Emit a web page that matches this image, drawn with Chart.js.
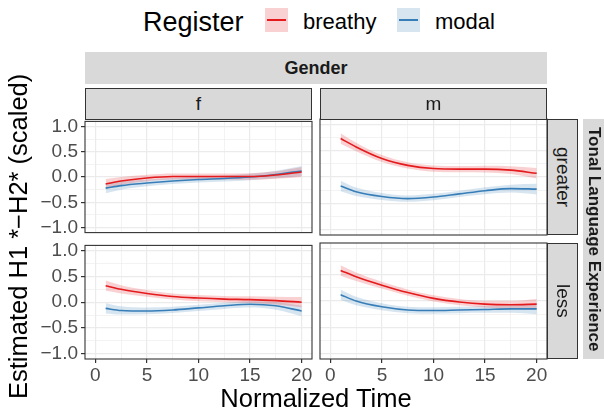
<!DOCTYPE html>
<html>
<head>
<meta charset="utf-8">
<script src="https://cdn.jsdelivr.net/npm/chart.js@4.4.1/dist/chart.umd.min.js"></script>
<style>
body { margin: 0; background: #fff; }
#wrap { position: relative; width: 604px; height: 414px; overflow: hidden; font-family: "Liberation Sans", Arial, sans-serif; color: #000; }
#wrap canvas { position: absolute; }
.txt { position: absolute; line-height: 1; white-space: nowrap; }
.strip { position: absolute; background: #d9d9d9; box-sizing: border-box; display: flex; align-items: center; justify-content: center; color: #1a1a1a; font-size: 19px; overflow: hidden; }
.boxed { border: 1.1px solid #333; }
.vert { writing-mode: vertical-rl; }
.key { position: absolute; width: 23px; height: 24px; }
.key span { position: absolute; left: 2px; right: 2px; top: 11px; height: 2px; }
</style>
</head>
<body>
<div id="wrap">
  <canvas id="c_f_greater" width="306" height="140" style="left:18px;top:107px"></canvas>
  <canvas id="c_m_greater" width="251" height="140" style="left:308px;top:107px"></canvas>
  <canvas id="c_f_less" width="306" height="168" style="left:18px;top:231px"></canvas>
  <canvas id="c_m_less" width="251" height="168" style="left:308px;top:231px"></canvas>

  <div class="txt" style="left:143px;top:9px;font-size:27px">Register</div>
  <div class="key" style="left:265px;top:8px;background:rgba(228,26,28,0.2)"><span style="background:#e41a1c"></span></div>
  <div class="txt" style="left:303px;top:11px;font-size:22px">breathy</div>
  <div class="key" style="left:397px;top:8px;background:rgba(55,126,184,0.2)"><span style="background:#377eb8"></span></div>
  <div class="txt" style="left:435px;top:11px;font-size:22px">modal</div>

  <div class="strip" style="left:85px;top:52px;width:462px;height:32px;font-weight:bold;font-size:18px">Gender</div>
  <div class="strip boxed" style="left:85px;top:88px;width:227px;height:32px">f</div>
  <div class="strip boxed" style="left:320px;top:88px;width:227px;height:32px">m</div>
  <div class="strip boxed vert" style="left:547px;top:119px;width:31px;height:116px">greater</div>
  <div class="strip boxed vert" style="left:547px;top:243px;width:31px;height:116px">less</div>
  <div class="strip vert" style="left:583px;top:119px;width:22px;height:240px;font-weight:bold;font-size:17px">Tonal Language Experience</div>

  <div class="txt" style="left:-141px;top:226px;width:320px;height:26px;text-align:center;font-size:25.5px;transform:rotate(-90deg)">Estimated H1 *&minus;H2* (scaled)</div>
  <div class="txt" style="left:116px;top:386px;width:400px;text-align:center;font-size:25.5px">Normalized Time</div>
</div>

<script>
// time points along the smooth (normalized time)
const timePoints = [1, 2.5, 5, 7.5, 10, 12.5, 15, 17.5, 20];

// fitted curves, one per gender x tonal experience x register
const fGreaterBreathy = [-0.14, -0.08, -0.02, 0.01, 0.01, 0.01, 0.01, 0.04, 0.10];
const fGreaterModal   = [-0.22, -0.17, -0.12, -0.08, -0.05, -0.03, 0.00, 0.05, 0.12];
const mGreaterBreathy = [0.73, 0.57, 0.35, 0.22, 0.16, 0.15, 0.15, 0.13, 0.07];
const mGreaterModal   = [-0.17, -0.28, -0.37, -0.41, -0.38, -0.32, -0.26, -0.22, -0.23];
const fLessBreathy    = [0.32, 0.25, 0.17, 0.11, 0.08, 0.06, 0.05, 0.03, 0.00];
const fLessModal      = [-0.12, -0.16, -0.17, -0.15, -0.11, -0.07, -0.04, -0.07, -0.17];
const mLessBreathy    = [0.58, 0.46, 0.30, 0.16, 0.05, -0.02, -0.06, -0.07, -0.06];
const mLessModal      = [0.12, 0.00, -0.11, -0.17, -0.18, -0.17, -0.16, -0.15, -0.15];

// half width of the confidence ribbon
const bandHalfWidth = [0.1, 0.08, 0.065, 0.06, 0.06, 0.06, 0.065, 0.075, 0.1];

const xTicks = [0, 2.5, 5, 7.5, 10, 12.5, 15, 17.5, 20];
const yTicks = [-1, -0.75, -0.5, -0.25, 0, 0.25, 0.5, 0.75, 1];

const RED = '#e41a1c';
const BLUE = '#377eb8';
const PAD = 12;

Chart.defaults.font.family = "'Liberation Sans', Arial, sans-serif";

const panelBorder = {
    id: 'panelBorder',
    afterDraw(chart) {
        const { ctx, chartArea: a } = chart;
        ctx.save();
        ctx.strokeStyle = '#333333';
        ctx.lineWidth = 1.1;
        ctx.strokeRect(a.left, a.top, a.width, a.height);
        ctx.restore();
    }
};

const pts = vals => timePoints.map((t, i) => ({ x: t, y: vals[i] }));
const upper = vals => timePoints.map((t, i) => ({ x: t, y: vals[i] + bandHalfWidth[i] }));
const lower = vals => timePoints.map((t, i) => ({ x: t, y: vals[i] - bandHalfWidth[i] }));

function line(data, color) {
    return { data, borderColor: color, borderWidth: 1.6, pointRadius: 0, fill: false, cubicInterpolationMode: 'monotone' };
}
function band(data, fillColor) {
    return { data, borderWidth: 0, borderColor: 'rgba(0,0,0,0)', pointRadius: 0, fill: fillColor ? '+1' : false,
             backgroundColor: fillColor || 'rgba(0,0,0,0)', cubicInterpolationMode: 'monotone' };
}

const isMajorX = v => Math.abs(v % 5) < 1e-9;
const isMajorY = v => Math.abs(v * 2 - Math.round(v * 2)) < 1e-9;

function makePanel(id, breathy, modal, showY, showX) {
    new Chart(document.getElementById(id), {
        type: 'line',
        data: {
            datasets: [
                line(pts(breathy), RED),
                line(pts(modal), BLUE),
                band(upper(breathy), 'rgba(228,26,28,0.2)'),
                band(lower(breathy)),
                band(upper(modal), 'rgba(55,126,184,0.2)'),
                band(lower(modal))
            ]
        },
        options: {
            responsive: false,
            animation: false,
            layout: { padding: PAD },
            plugins: { legend: { display: false }, tooltip: { enabled: false } },
            scales: {
                x: {
                    type: 'linear', min: -1, max: 21,
                    afterBuildTicks: s => { s.ticks = xTicks.map(v => ({ value: v })); },
                    afterFit: s => { s.height = showX ? 28 : 0; },
                    border: { display: false },
                    grid: {
                        color: '#ebebeb',
                        lineWidth: c => isMajorX(c.tick.value) ? 1.2 : 0.6,
                        drawTicks: showX, tickLength: 4,
                        tickColor: c => isMajorX(c.tick.value) ? '#333333' : 'rgba(0,0,0,0)'
                    },
                    ticks: {
                        display: showX, autoSkip: false, maxRotation: 0, padding: 1,
                        color: '#4d4d4d', font: { size: 19 },
                        callback: v => isMajorX(v) ? String(v) : ''
                    }
                },
                y: {
                    type: 'linear', min: -1.1, max: 1.1,
                    afterBuildTicks: s => { s.ticks = yTicks.map(v => ({ value: v })); },
                    afterFit: s => { s.width = showY ? 55 : 0; },
                    border: { display: false },
                    grid: {
                        color: '#ebebeb',
                        lineWidth: c => isMajorY(c.tick.value) ? 1.2 : 0.6,
                        drawTicks: showY, tickLength: 4,
                        tickColor: c => isMajorY(c.tick.value) ? '#333333' : 'rgba(0,0,0,0)'
                    },
                    ticks: {
                        display: showY, autoSkip: false, padding: 3,
                        color: '#4d4d4d', font: { size: 19 },
                        callback: v => isMajorY(v) ? v.toFixed(1).replace('-', '\u2212') : ''
                    }
                }
            }
        },
        plugins: [panelBorder]
    });
}

makePanel('c_f_greater', fGreaterBreathy, fGreaterModal, true, false);
makePanel('c_m_greater', mGreaterBreathy, mGreaterModal, false, false);
makePanel('c_f_less', fLessBreathy, fLessModal, true, true);
makePanel('c_m_less', mLessBreathy, mLessModal, false, true);
</script>
</body>
</html>
